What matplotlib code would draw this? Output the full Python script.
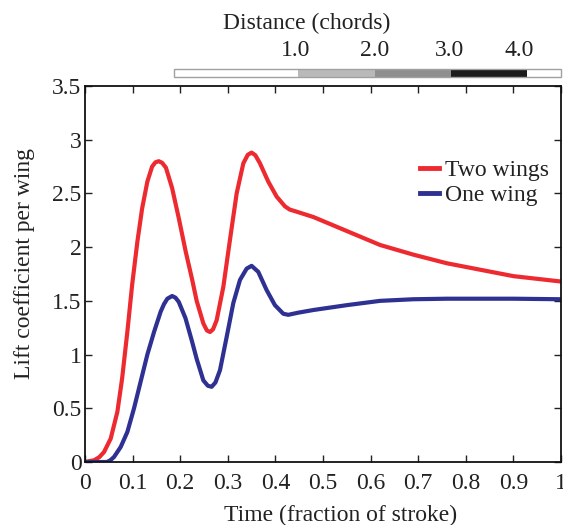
import matplotlib
matplotlib.use("Agg")
import matplotlib.pyplot as plt

plt.rcParams['font.family'] = ['Liberation Serif', 'DejaVu Serif']

# Two wings (red)
t_two = [0.0, 0.019, 0.030, 0.040, 0.054, 0.068, 0.078, 0.089, 0.099, 0.110, 0.120,
         0.131, 0.141, 0.148, 0.155, 0.162, 0.170, 0.183, 0.197, 0.2115, 0.225, 0.2346,
         0.2486, 0.256, 0.2626, 0.269, 0.2766, 0.2906, 0.3046, 0.3186, 0.3326, 0.342,
         0.350, 0.358, 0.3676, 0.385, 0.4027, 0.420, 0.430, 0.4447, 0.48, 0.55, 0.62,
         0.69, 0.76, 0.83, 0.90, 1.0]
cl_two = [0.0, 0.016, 0.045, 0.093, 0.218, 0.467, 0.778, 1.213, 1.648, 2.05, 2.36,
          2.61, 2.75, 2.79, 2.80, 2.785, 2.74, 2.55, 2.27, 1.96, 1.70, 1.50,
          1.29, 1.225, 1.21, 1.235, 1.32, 1.63, 2.07, 2.50, 2.78, 2.86,
          2.88, 2.855, 2.78, 2.61, 2.47, 2.38, 2.35, 2.33, 2.28, 2.15, 2.02,
          1.93, 1.85, 1.79, 1.73, 1.68]

# One wing (blue)
t_one = [0.0, 0.046, 0.053, 0.061, 0.075, 0.089, 0.103, 0.117, 0.131, 0.145, 0.159,
         0.166, 0.173, 0.183, 0.190, 0.197, 0.211, 0.225, 0.2346, 0.2486, 0.258, 0.266,
         0.274, 0.2836, 0.2977, 0.3116, 0.3256, 0.3396, 0.350, 0.364, 0.3816, 0.399,
         0.4166, 0.427, 0.448, 0.48, 0.55, 0.62, 0.69, 0.76, 0.83, 0.90, 1.0]
cl_one = [0.0, 0.0, 0.015, 0.047, 0.14, 0.28, 0.50, 0.75, 1.0, 1.21, 1.40,
          1.47, 1.52, 1.545, 1.53, 1.49, 1.34, 1.12, 0.96, 0.76, 0.71, 0.70,
          0.74, 0.855, 1.166, 1.48, 1.695, 1.80, 1.826, 1.77, 1.60, 1.46,
          1.38, 1.37, 1.39, 1.415, 1.46, 1.50, 1.515, 1.52, 1.52, 1.52, 1.515]

# Distance bar (time at which each chord distance is reached)
dist_edges = [0.187, 0.448, 0.609, 0.768, 0.928, 1.0]
dist_colors = ['#ffffff', '#b9b9b9', '#8f8f8f', '#1c1c1c', '#ffffff']
dist_labels = ['1.0', '2.0', '3.0', '4.0']
dist_label_t = [0.443, 0.608, 0.765, 0.912]

xticks = [0, 0.1, 0.2, 0.3, 0.4, 0.5, 0.6, 0.7, 0.8, 0.9, 1.0]
xticklabels = ['0', '0.1', '0.2', '0.3', '0.4', '0.5', '0.6', '0.7', '0.8', '0.9', '1']
yticks = [0, 0.5, 1, 1.5, 2, 2.5, 3, 3.5]
yticklabels = ['0', '0.5', '1', '1.5', '2', '2.5', '3', '3.5']

W, H = 563, 525
fig = plt.figure(figsize=(W / 100, H / 100), dpi=100)
L, R, T, B = 85, 561, 86, 462
ax = fig.add_axes([L / W, 1 - B / H, (R - L) / W, (B - T) / H])

red = '#ed2a30'
blue = '#2e3192'
txtc = '#222222'
ax.plot(t_two, cl_two, color=red, lw=3.0, label='Two wings', solid_joinstyle='round')
ax.plot(t_one, cl_one, color=blue, lw=3.0, label='One wing', solid_joinstyle='round')

ax.set_xlim(0, 1)
ax.set_ylim(0, 3.5)
ax.set_xticks(xticks)
ax.set_xticklabels(xticklabels)
ax.set_yticks(yticks)
ax.set_yticklabels(yticklabels)
ax.tick_params(direction='in', length=5, width=1.0, labelsize=17, top=True, right=True,
               color='#222222', labelcolor=txtc)
ax.tick_params(axis='x', pad=8)
ax.tick_params(axis='y', pad=2.5)
for s in ax.spines.values():
    s.set_linewidth(1.3)
    s.set_color('#111111')
ax.set_xlabel('Time (fraction of stroke)', fontsize=17, color=txtc)
ax.set_ylabel('Lift coefficient per wing', fontsize=17, color=txtc)
ax.xaxis.set_label_coords(0.537, -0.114)
ax.yaxis.set_label_coords(-0.106, 0.529)

leg = ax.legend(loc='upper right', bbox_to_anchor=(0.975, 0.804), frameon=False,
                fontsize=17, handlelength=0.8, handletextpad=0.25, labelspacing=0.15,
                borderaxespad=0, borderpad=0)
for txt in leg.get_texts():
    txt.set_color(txtc)
for ln in leg.get_lines():
    ln.set_linewidth(3.5)

# Distance bar axes
bar_top, bar_bot = 69, 77
bax = fig.add_axes([L / W, 1 - bar_bot / H, (R - L) / W, (bar_bot - bar_top) / H])
bax.set_xlim(0, 1)
bax.set_ylim(0, 1)
bax.axis('off')
for i in range(len(dist_colors)):
    bax.barh(0.5, dist_edges[i + 1] - dist_edges[i], left=dist_edges[i], height=1.0,
             color=dist_colors[i], edgecolor='none', clip_on=False)
bax.barh(0.5, dist_edges[-1] - dist_edges[0], left=dist_edges[0], height=1.0,
         color='none', edgecolor='#a0a0a0', lw=1.0, clip_on=False)
for tt, lab in zip(dist_label_t, dist_labels):
    bax.text(tt, 2.6, lab, ha='center', va='baseline', fontsize=17, color=txtc)
bax.text(0.466, 6.0, 'Distance (chords)', ha='center', va='baseline', fontsize=17, color=txtc)

fig.savefig('out.png', dpi=100)
